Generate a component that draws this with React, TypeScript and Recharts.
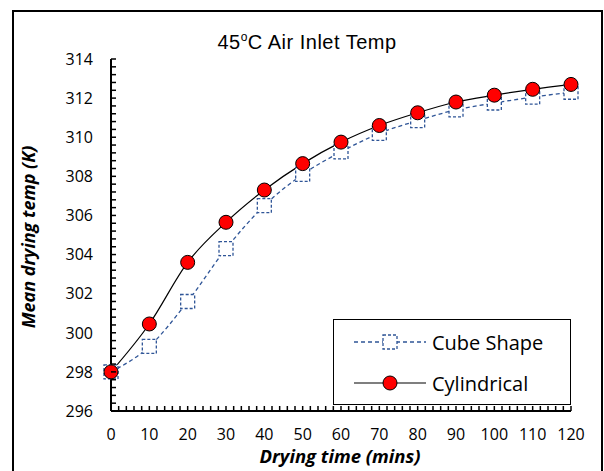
import React from "react";
import { LineChart, Line, XAxis, YAxis } from "recharts";

const times = [0, 10, 20, 30, 40, 50, 60, 70, 80, 90, 100, 110, 120];
const cubeShape = [298.0, 299.3, 301.6, 304.3, 306.5, 308.1, 309.25, 310.2, 310.85, 311.4, 311.75, 312.05, 312.3];
const cylindrical = [298.0, 300.45, 303.6, 305.65, 307.3, 308.65, 309.75, 310.6, 311.25, 311.8, 312.15, 312.45, 312.7];

// minor ticks: every 2 mins on x, every 0.4 K on y
const xTicks = Array.from({ length: 61 }, (_, i) => i * 2);
const yTicks = Array.from({ length: 46 }, (_, i) => Math.round((296 + i * 0.4) * 10) / 10);

const data = times.map((t, i) => ({ t, cube: cubeShape[i], cyl: cylindrical[i] }));

const tickFont = "'Open Sans', sans-serif";
const cubeColor = "#2f5597";

const XTick = (props: any) => {
  const { x, y, payload } = props;
  const v = payload.value;
  return (
    <g>
      <line x1={x} x2={x} y1={y} y2={y - 5} stroke="#000" strokeWidth={1.5} />
      {v % 10 === 0 && (
        <text x={x} y={y + 29} textAnchor="middle" fontSize={16} fontFamily={tickFont} fill="#000">
          {v}
        </text>
      )}
    </g>
  );
};

const YTick = (props: any) => {
  const { x, y, payload } = props;
  const v = payload.value;
  const isMajor = Math.abs(v - Math.round(v)) < 1e-6 && Math.round(v) % 2 === 0;
  return (
    <g>
      <line x1={x} x2={x + 5} y1={y} y2={y} stroke="#000" strokeWidth={1.5} />
      {isMajor && (
        <text x={x - 18} y={y} dy="0.36em" textAnchor="end" fontSize={16} fontFamily={tickFont} fill="#000">
          {Math.round(v)}
        </text>
      )}
    </g>
  );
};

const SquareDot = (props: any) => {
  const { cx, cy, index } = props;
  return (
    <rect
      key={`sq-${index}`}
      x={cx - 7}
      y={cy - 7}
      width={14}
      height={14}
      fill="#fff"
      stroke={cubeColor}
      strokeWidth={1.3}
      strokeDasharray="3 2"
    />
  );
};

export default function App() {
  return (
    <div style={{ position: "absolute", left: 0, top: 0, width: 604, height: 471, background: "#fff", overflow: "hidden" }}>
      <div
        style={{
          position: "absolute",
          left: 12,
          top: 10,
          width: 587,
          height: 480,
          border: "2px solid #000",
        }}
      />
      <div
        style={{
          position: "absolute",
          left: 0,
          width: 614,
          top: 30,
          textAlign: "center",
          fontFamily: "'Liberation Sans', Arial, sans-serif",
          fontSize: 20,
          letterSpacing: 0.5,
        }}
      >
        45<sup style={{ fontSize: 12 }}>o</sup>C Air Inlet Temp
      </div>
      <LineChart
        width={604}
        height={471}
        data={data}
        margin={{ top: 59, right: 33, left: 61, bottom: 20 }}
        style={{ position: "absolute", left: 0, top: 0 }}
      >
        <XAxis
          dataKey="t"
          type="number"
          domain={[0, 120]}
          ticks={xTicks}
          interval={0}
          tickSize={0}
          tickMargin={0}
          tickLine={false}
          axisLine={{ stroke: "#000", strokeWidth: 2 }}
          tick={<XTick />}
          height={40}
        />
        <YAxis
          type="number"
          domain={[296, 314]}
          ticks={yTicks}
          interval={0}
          tickSize={0}
          tickMargin={0}
          tickLine={false}
          axisLine={{ stroke: "#000", strokeWidth: 2 }}
          tick={<YTick />}
          width={50}
          allowDataOverflow
        />
        <Line
          type="monotone"
          dataKey="cube"
          stroke={cubeColor}
          strokeWidth={1.3}
          strokeDasharray="4 3"
          dot={<SquareDot />}
          isAnimationActive={false}
        />
        <Line
          type="monotone"
          dataKey="cyl"
          stroke="#000"
          strokeWidth={1.2}
          dot={{ r: 7, fill: "#ff0000", stroke: "#000", strokeWidth: 1 }}
          isAnimationActive={false}
        />
      </LineChart>
      <div
        style={{
          position: "absolute",
          left: 16,
          top: 237,
          transform: "translate(-50%, -50%) rotate(-90deg)",
          transformOrigin: "center",
          marginLeft: 12,
          whiteSpace: "nowrap",
          fontFamily: tickFont,
          fontSize: 18,
          fontWeight: 700,
          fontStyle: "italic",
        }}
      >
        Mean drying temp (K)
      </div>
      <div
        style={{
          position: "absolute",
          left: 240,
          width: 200,
          top: 444,
          lineHeight: "24px",
          textAlign: "center",
          whiteSpace: "nowrap",
          fontFamily: tickFont,
          fontSize: 18.5,
          fontWeight: 700,
          fontStyle: "italic",
        }}
      >
        Drying time (mins)
      </div>
      <div
        style={{
          position: "absolute",
          left: 333,
          top: 319,
          width: 236,
          height: 84,
          border: "1.5px solid #000",
          background: "#fff",
          fontFamily: tickFont,
          fontSize: 20,
        }}
      >
        <div style={{ position: "absolute", left: 20, top: 8, display: "flex", alignItems: "center", height: 28 }}>
          <svg width={72} height={20}>
            <line x1={0} x2={72} y1={10} y2={10} stroke={cubeColor} strokeWidth={1.3} strokeDasharray="4 3" />
            <rect x={29} y={3} width={14} height={14} fill="#fff" stroke={cubeColor} strokeWidth={1.3} strokeDasharray="3 2" />
          </svg>
          <span style={{ marginLeft: 6 }}>Cube Shape</span>
        </div>
        <div style={{ position: "absolute", left: 20, top: 49, display: "flex", alignItems: "center", height: 28 }}>
          <svg width={72} height={20}>
            <line x1={0} x2={72} y1={10} y2={10} stroke="#000" strokeWidth={1.2} />
            <circle cx={36} cy={10} r={7} fill="#ff0000" stroke="#000" strokeWidth={1} />
          </svg>
          <span style={{ marginLeft: 6 }}>Cylindrical</span>
        </div>
      </div>
    </div>
  );
}
